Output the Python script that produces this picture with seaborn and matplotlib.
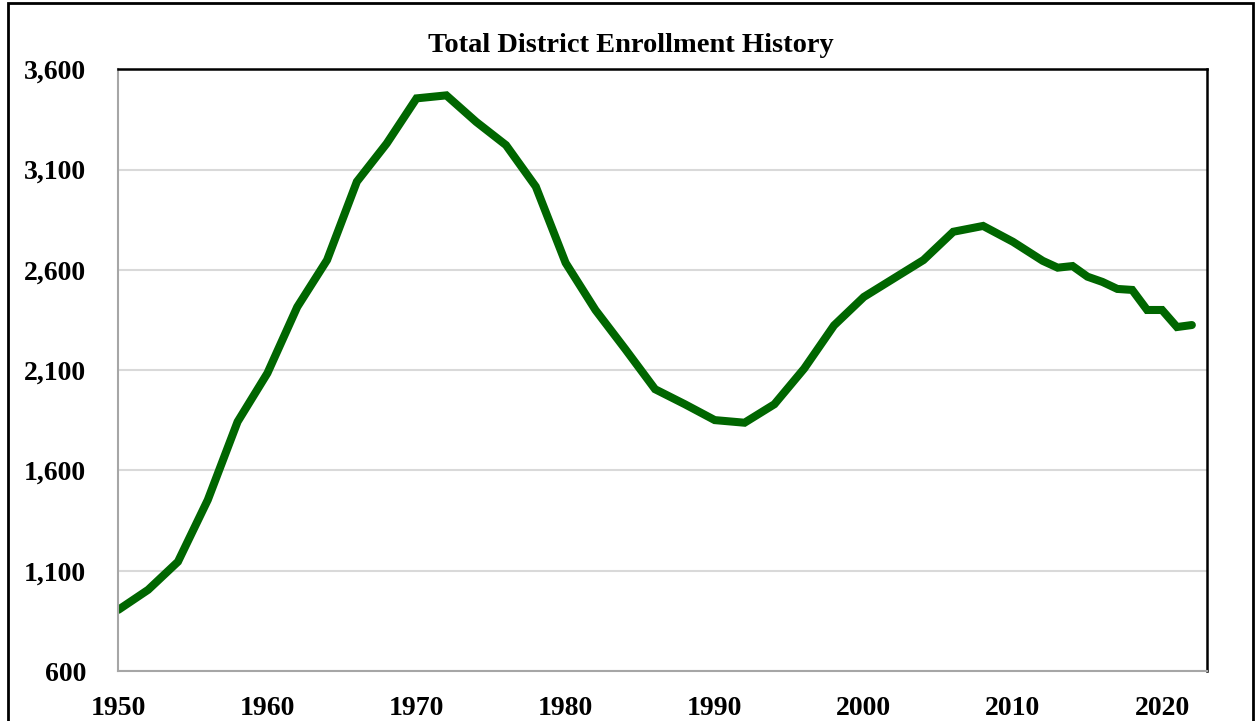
import matplotlib
matplotlib.use("Agg")
import matplotlib.pyplot as plt
from matplotlib.patches import Rectangle
from matplotlib.ticker import FuncFormatter
import seaborn as sns
import pandas as pd

# enrollment
years = [1950, 1952, 1954, 1956, 1958, 1960, 1962, 1964, 1966, 1968,
         1970, 1972, 1974, 1976, 1978, 1980, 1982, 1984, 1986, 1988,
         1990, 1992, 1994, 1996, 1998, 2000, 2002, 2004, 2006, 2008,
         2010, 2012, 2013, 2014, 2015, 2016, 2017, 2018, 2019, 2020,
         2021, 2022]
enrollment = [905, 1005, 1145, 1453, 1843, 2085, 2415, 2649, 3040, 3230,
              3455, 3470, 3338, 3222, 3015, 2635, 2400, 2205, 2005, 1930,
              1851, 1838, 1930, 2108, 2323, 2465, 2557, 2649, 2790, 2819,
              2740, 2645, 2611, 2619, 2566, 2540, 2505, 2500, 2400, 2400,
              2315, 2325]
xticks = [1950, 1960, 1970, 1980, 1990, 2000, 2010, 2020]
yticks = [600, 1100, 1600, 2100, 2600, 3100, 3600]
title = "Total District Enrollment History"

df = pd.DataFrame({"Year": years, "Enrollment": enrollment})

sns.set_style("white")
plt.rcParams["font.family"] = ["Liberation Serif", "DejaVu Serif"]
plt.rcParams["font.weight"] = "bold"
plt.rcParams["text.color"] = "black"

fig = plt.figure(figsize=(12.56, 7.21), dpi=100)
ax = fig.add_axes([0.0942, 0.0693, 0.8666, 0.8346])

sns.lineplot(data=df, x="Year", y="Enrollment", ax=ax,
             color="#006600", linewidth=5.8, solid_joinstyle="miter",
             solid_capstyle="round")

ax.set_xlim(1950, 2023)
ax.set_ylim(600, 3600)
ax.set_xticks(xticks)
ax.set_yticks(yticks)
ax.yaxis.set_major_formatter(FuncFormatter(lambda v, p: f"{int(v):,}"))
ax.tick_params(axis="y", length=0, pad=23, labelsize=20, labelcolor="black")
ax.tick_params(axis="x", length=0, pad=18, labelsize=20, labelcolor="black")
for lab in ax.get_xticklabels() + ax.get_yticklabels():
    lab.set_fontweight("bold")
ax.set_xlabel("")
ax.set_ylabel("")

ax.grid(axis="y", color="#d9d9d9", linewidth=1.5)
ax.set_axisbelow(True)

for side in ["top", "right"]:
    ax.spines[side].set_color("black")
    ax.spines[side].set_linewidth(1.8)
for side in ["left", "bottom"]:
    ax.spines[side].set_color("#a6a6a6")
    ax.spines[side].set_linewidth(1.5)

fig.text(0.502, 0.937, title, ha="center", va="center",
         fontsize=20.5, fontweight="bold", color="black")

# outer frame around the whole chart
fig.patches.append(Rectangle((8 / 1256, -0.05), 1245 / 1256, 1.05 - 3 / 721,
                             transform=fig.transFigure, fill=False,
                             edgecolor="black", linewidth=2))

fig.savefig("out.png", dpi=100)
